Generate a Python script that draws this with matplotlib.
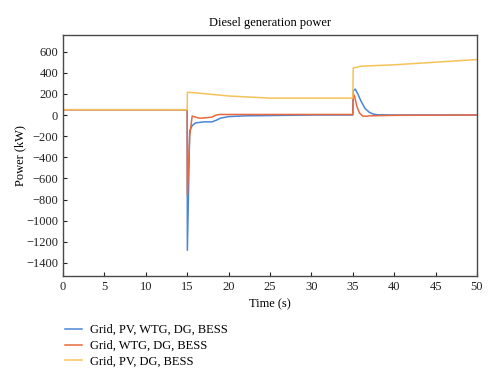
import numpy as np
import matplotlib.pyplot as plt

plt.rcParams['font.family'] = ['Liberation Serif', 'DejaVu Serif']

# series (time in s, power in kW)
t_blue = [0, 15, 15.02, 15.3, 15.6, 16, 17, 18, 18.5, 19, 20, 22, 25, 30, 35,
          35.05, 35.3, 35.6, 36, 36.5, 37, 37.5, 38, 40, 45, 50]
p_blue = [50, 50, -1280, -150, -100, -75, -65, -65, -50, -30, -15, -8, -5, 0, 0,
          230, 245, 200, 130, 60, 25, 8, 2, 0, 0, 0]

t_red = [0, 15, 15.02, 15.3, 15.6, 16, 16.5, 17, 18, 18.5, 19, 20, 25, 35,
         35.05, 35.2, 35.5, 35.8, 36.2, 36.6, 37, 40, 50]
p_red = [50, 50, -760, -200, -10, -20, -30, -28, -20, 0, 5, 5, 5, 5,
         200, 180, 80, 20, -10, -12, -8, -3, 0]

t_yel = [0, 15, 15.02, 16, 18, 20, 23, 25, 30, 35, 35.05, 36, 40, 45, 50]
p_yel = [50, 50, 215, 210, 195, 180, 168, 160, 160, 160, 445, 462, 475, 500, 525]

labels = ['Grid, PV, WTG, DG, BESS', 'Grid, WTG, DG, BESS', 'Grid, PV, DG, BESS']
colors = ['#4a86d6', '#e8693f', '#f5c25a']

fig = plt.figure(figsize=(5, 3.83), dpi=100)
ax = fig.add_axes([0.126, 0.279, 0.828, 0.629])

ax.plot(t_blue, p_blue, color=colors[0], lw=1.1, label=labels[0])
ax.plot(t_red, p_red, color=colors[1], lw=1.1, label=labels[1])
ax.plot(t_yel, p_yel, color=colors[2], lw=1.1, label=labels[2])

ax.set_xlim(0, 50)
ax.set_ylim(-1525, 755)
ax.set_xticks(np.arange(0, 51, 5))
ax.set_yticks(np.arange(-1400, 601, 200))
ax.set_yticklabels([str(v).replace('-', '\u2212') for v in range(-1400, 601, 200)])
ax.tick_params(direction='in', length=3, width=0.8, labelsize=9, colors='#222222',
               top=False, right=False)
for s in ax.spines.values():
    s.set_color('#4a4a4a')
    s.set_linewidth(1.0)

ax.set_title('Diesel generation power', fontsize=9, pad=7)
ax.set_xlabel('Time (s)', fontsize=9, labelpad=4)
ax.set_ylabel('Power (kW)', fontsize=9, labelpad=0)

fig.legend(loc='upper left', bbox_to_anchor=(0.107, 0.183), frameon=False,
           fontsize=9, handlelength=1.4, handletextpad=0.6, labelspacing=0.3)

fig.savefig('out.png', dpi=100)
